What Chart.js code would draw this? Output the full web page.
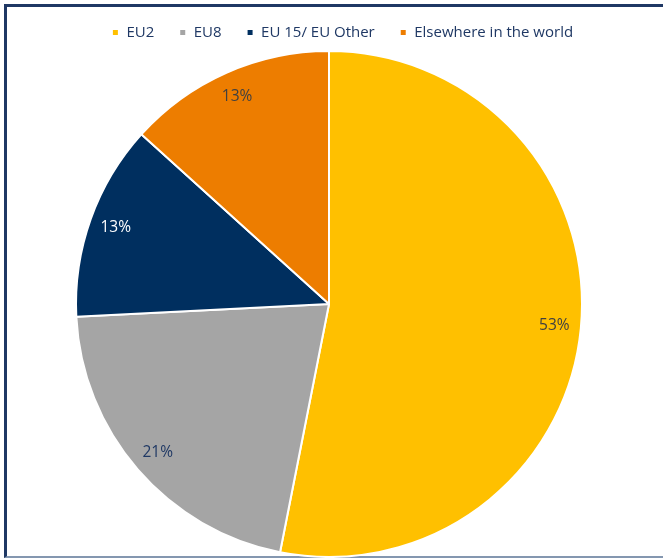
<!DOCTYPE html>
<html>
<head>
<meta charset="utf-8">
<script src="https://cdn.jsdelivr.net/npm/chart.js@4/dist/chart.umd.min.js"></script>
<style>
  html, body { margin: 0; padding: 0; background: #fff; overflow: hidden; }
  #frame {
    position: absolute; left: 4px; top: 4px; width: 720px; height: 549px;
    border-left: 3px solid #1f3864; border-top: 3px solid #1f3864;
    border-bottom: 2px solid #8497b0;
  }
  #wrap { position: absolute; left: 0; top: 0; width: 663px; height: 558px; }
</style>
</head>
<body>
<div id="frame"></div>
<div id="wrap"><canvas id="originChart"></canvas></div>
<script>
const categories = ['EU2', 'EU8', 'EU 15/ EU Other', 'Elsewhere in the world'];
const shares = [53.1, 21.1, 12.5, 13.3];
const sliceColors = ['#ffc000', '#a5a5a5', '#002f5f', '#ed7d00'];
const labelColors = ['#404040', '#1f3864', '#ffffff', '#404040'];

// draw the percentages near the outer edge of each slice
const pctLabels = {
  id: 'pctLabels',
  afterDatasetsDraw(chart) {
    const ctx = chart.ctx;
    const meta = chart.getDatasetMeta(0);
    ctx.save();
    ctx.font = '15.5px "Open Sans", sans-serif';
    ctx.textAlign = 'center';
    ctx.textBaseline = 'middle';
    meta.data.forEach((arc, i) => {
      const mid = (arc.startAngle + arc.endAngle) / 2;
      const r = arc.outerRadius * 0.895;
      const x = arc.x + Math.cos(mid) * r;
      const y = arc.y + Math.sin(mid) * r;
      ctx.fillStyle = labelColors[i];
      ctx.fillText(Math.round(shares[i]) + '%', x, y);
    });
    ctx.restore();
  }
};

// legend sits a little right of the pie centre in the original
const nudgeLegend = {
  id: 'nudgeLegend',
  beforeDraw(chart) {
    if (chart.legend) {
      chart.legend.left = 11;
      chart.legend.right = chart.width + 11;
    }
  }
};

new Chart(document.getElementById('originChart'), {
  type: 'pie',
  data: {
    labels: categories,
    datasets: [{
      data: shares,
      backgroundColor: sliceColors,
      borderColor: '#ffffff',
      borderWidth: 2
    }]
  },
  plugins: [pctLabels, nudgeLegend],
  options: {
    responsive: true,
    maintainAspectRatio: false,
    animation: false,
    layout: { padding: { top: 0, bottom: 0, left: 0, right: 5 } },
    plugins: {
      tooltip: { enabled: false },
      legend: {
        position: 'top',
        labels: {
          boxWidth: 7,
          boxHeight: 7,
          padding: 25,
          color: '#1f3864',
          font: { size: 15, family: '"Open Sans", sans-serif' }
        }
      }
    }
  }
});
</script>
</body>
</html>
